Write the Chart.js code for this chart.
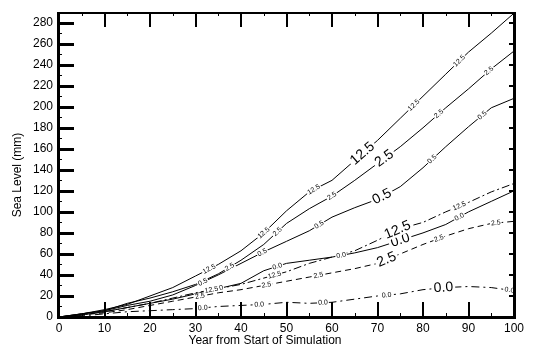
<!DOCTYPE html>
<html><head><meta charset="utf-8">
<script src="https://cdn.jsdelivr.net/npm/chart.js@4/dist/chart.umd.min.js"></script>
<style>html,body{margin:0;padding:0;background:#fff;}</style>
</head><body>
<canvas id="c" width="544" height="359"></canvas>
<script>
const years     = [0,5,10,15,20,25,30,35,40,45,50,55,60,65,70,75,80,85,90,95,100];
const solid125  = [0,3,7,12,20,28,39,50,63,80,101,119,130,149,168,189,210,231,252,270,289];
const solid25   = [0,3,6,13,18,24,31,41,54,69,89,103,115,130,146,162,180,199,217,236,253];
const solid05   = [0,3,6,11,15,21,30,40,51,62,72,82,95,104,112,124,142,162,181,199,208];
const solid00   = [0,2,5,9,13,17,22,27,32,44,51,54,57,61,66,73,80,88,100,110,120];
const dash125   = [0,2,5,9,13,18,23,27,31,37,43,51,57,63,73,84,90,100,109,119,127];
const dash25    = [0,2,4,7,11,15,19,23,26,30,34,38,42,46,51,60,69,77,84,89,91];
const dash00    = [0,1,3,5,6,7,8,10,11,12,14,13,14,17,20,22,26,28,29,28,25];
const yTicks = [0,20,40,60,80,100,120,140,160,180,200,220,240,260,280];
const xTicks = [0,10,20,30,40,50,60,70,80,90,100];
const seriesNames = ['12.5','2.5','0.5','0.0','12.5','2.5','0.0'];
const bigLabelYear   = [66.7, 71.5, 71, 75, 74.4, 72, 84.5];
const smallLabelYears = [[33,45,56,78,88],[37.5,48,60,83.5,94.5],[31.6,44.7,57.2,82,93],[35,48,62,88],[33.5,47.4,88],[31,45.6,57,83.5,96],[31.6,44,58,72,99]];

const allSeries = [solid125, solid25, solid05, solid00, dash125, dash25, dash00];
const dashes = [[],[],[],[],[8,3,2,3],[6,4],[8,4,2,4]];

function interp(xs, ys, x){
  for(let i=0;i<xs.length-1;i++){
    if(x>=xs[i] && x<=xs[i+1]){
      const t=(x-xs[i])/(xs[i+1]-xs[i]);
      return ys[i]+t*(ys[i+1]-ys[i]);
    }
  }
  return ys[ys.length-1];
}

const FONT = '"Liberation Sans", Arial, sans-serif';

const labelPlugin = {
  id:'lineLabels',
  afterDatasetsDraw(chart){
    const ctx=chart.ctx, xs=chart.scales.x, ys=chart.scales.y;
    ctx.save();
    allSeries.forEach((arr,i)=>{
      const txt=seriesNames[i];
      const draw=(yr,size,pad)=>{
        const px=xs.getPixelForValue(yr), py=ys.getPixelForValue(interp(years,arr,yr));
        const a1x=xs.getPixelForValue(yr-2), a1y=ys.getPixelForValue(interp(years,arr,Math.max(0,yr-2)));
        const a2x=xs.getPixelForValue(Math.min(100,yr+2)), a2y=ys.getPixelForValue(interp(years,arr,Math.min(100,yr+2)));
        const ang=Math.atan2(a2y-a1y,a2x-a1x);
        ctx.save();
        ctx.translate(px,py); ctx.rotate(ang);
        ctx.font=size+'px '+FONT;
        const w=ctx.measureText(txt).width;
        ctx.fillStyle='#fff';
        ctx.fillRect(-w/2-pad,-size*0.45,w+2*pad,size*0.9);
        ctx.fillStyle='#000';
        ctx.textAlign='center'; ctx.textBaseline='middle';
        ctx.fillText(txt,0,0);
        ctx.restore();
      };
      smallLabelYears[i].forEach(yr=>draw(yr,7,1));
      draw(bigLabelYear[i],14,2);
    });
    ctx.restore();
  }
};

const framePlugin = {
  id:'frame',
  afterDraw(chart){
    const ctx=chart.ctx, a=chart.chartArea, xs=chart.scales.x, ys=chart.scales.y;
    ctx.save();
    ctx.fillStyle='#000';
    const L=Math.round(a.left), R=Math.round(a.right), T=Math.round(a.top), B=Math.round(a.bottom);
    ctx.fillRect(L-2,T-1,R-L+3,2);
    ctx.fillRect(L-2,B-1,R-L+3,3);
    ctx.fillRect(L-2,T-1,3,B-T+3);
    ctx.fillRect(R-1,T-1,3,B-T+3);
    xTicks.forEach(v=>{
      if(v===0||v===100) return;
      const p=Math.round(xs.getPixelForValue(v));
      ctx.fillRect(p-1,B-15,2,15);
      ctx.fillRect(p-1,T,2,14);
    });
    for(let v=5;v<100;v+=10){
      const p=Math.round(xs.getPixelForValue(v));
      ctx.fillRect(p,B-4,1,4);
      ctx.fillRect(p,T,1,3);
    }
    yTicks.forEach(v=>{
      if(v===0) return;
      const p=Math.round(ys.getPixelForValue(v));
      ctx.fillRect(L,p-1,15,3);
      ctx.fillRect(R-5,p-1,5,2);
    });
    for(let v=10;v<289;v+=20){
      const p=Math.round(ys.getPixelForValue(v));
      ctx.fillRect(L,p,3,1);
    }
    ctx.font='12px '+FONT;
    ctx.textAlign='center'; ctx.textBaseline='middle';
    ctx.fillText('Year from Start of Simulation',265,341);
    ctx.translate(18,175); ctx.rotate(-Math.PI/2);
    ctx.fillText('Sea Level (mm)',0,0);
    ctx.restore();
  }
};

new Chart(document.getElementById('c'),{
  type:'line',
  data:{
    labels:years,
    datasets:allSeries.map((arr,i)=>({
      label:seriesNames[i],
      data:years.map((y,j)=>({x:y,y:arr[j]})),
      borderColor:'#000', borderWidth:1, borderDash:dashes[i],
      pointRadius:0, fill:false, tension:0
    }))
  },
  options:{
    responsive:false, animation:false, devicePixelRatio:1,
    layout:{padding:{left:0,top:13,right:30,bottom:0}},
    plugins:{legend:{display:false},tooltip:{enabled:false}},
    scales:{
      x:{type:'linear',min:0,max:100,
        afterBuildTicks:s=>{s.ticks=xTicks.map(v=>({value:v}));},
        afterFit:s=>{s.height=42;},
        grid:{display:false,drawTicks:false},border:{display:false},
        ticks:{color:'#000',font:{family:FONT,size:12},padding:4,maxRotation:0,autoSkip:false}},
      y:{type:'linear',min:0,max:289,
        afterBuildTicks:s=>{s.ticks=yTicks.map(v=>({value:v}));},
        afterFit:s=>{s.width=59;},
        grid:{display:false,drawTicks:false},border:{display:false},
        ticks:{color:'#000',font:{family:FONT,size:12},padding:6,autoSkip:false}}
    }
  },
  plugins:[labelPlugin,framePlugin]
});
</script>
</body></html>
